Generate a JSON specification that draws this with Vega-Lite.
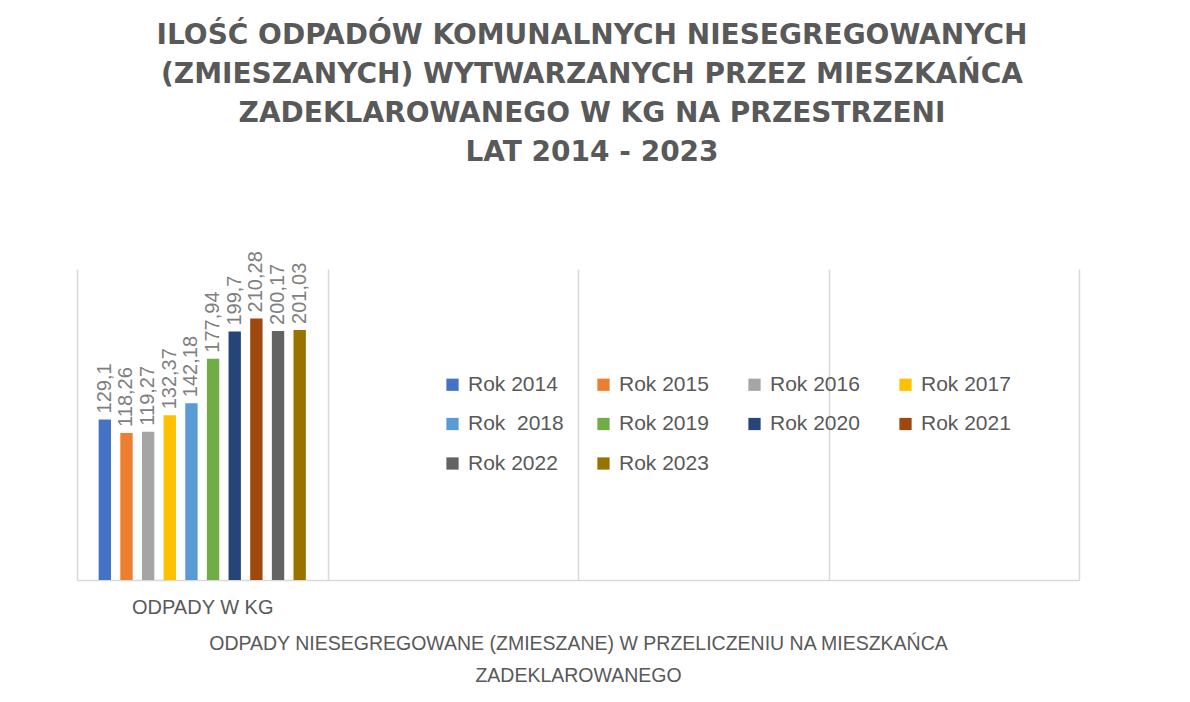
{
  "$schema": "https://vega.github.io/schema/vega-lite/v6.json",
  "width": 1002,
  "height": 311,
  "padding": {"left": 77, "top": 22, "right": 111, "bottom": 0},
  "background": "white",
  "config": {
    "view": {"stroke": null},
    "locale": {"number": {"decimal": ",", "thousands": " ", "grouping": [3], "currency": ["", " zł"]}}
  },
  "title": {
    "text": ["ILOŚĆ ODPADÓW KOMUNALNYCH NIESEGREGOWANYCH", "(ZMIESZANYCH) WYTWARZANYCH PRZEZ MIESZKAŃCA", "ZADEKLAROWANEGO W KG NA PRZESTRZENI", "LAT 2014 - 2023"],
    "font": "DejaVu Sans",
    "fontWeight": "bold",
    "fontSize": 28,
    "lineHeight": 39,
    "color": "#595959",
    "anchor": "middle",
    "dx": 14,
    "offset": 84
  },
  "data": {
    "values": [
      {"cat": "ODPADY W KG", "rok": "Rok 2014", "value": 129.1},
      {"cat": "ODPADY W KG", "rok": "Rok 2015", "value": 118.26},
      {"cat": "ODPADY W KG", "rok": "Rok 2016", "value": 119.27},
      {"cat": "ODPADY W KG", "rok": "Rok 2017", "value": 132.37},
      {"cat": "ODPADY W KG", "rok": "Rok\u00a0 2018", "value": 142.18},
      {"cat": "ODPADY W KG", "rok": "Rok 2019", "value": 177.94},
      {"cat": "ODPADY W KG", "rok": "Rok 2020", "value": 199.7},
      {"cat": "ODPADY W KG", "rok": "Rok 2021", "value": 210.28},
      {"cat": "ODPADY W KG", "rok": "Rok 2022", "value": 200.17},
      {"cat": "ODPADY W KG", "rok": "Rok 2023", "value": 201.03}
    ]
  },
  "encoding": {
    "x": {
      "field": "cat",
      "type": "nominal",
      "scale": {"domain": ["ODPADY W KG", "k2", "k3", "k4"], "paddingInner": 0, "paddingOuter": 0},
      "axis": {
        "labelExpr": "datum.value == 'ODPADY W KG' ? datum.value : ''",
        "labelAngle": 0,
        "labelFont": "Liberation Sans",
        "labelFontSize": 20,
        "labelColor": "#595959",
        "labelPadding": 17,
        "ticks": false,
        "domainColor": "#d9d9d9",
        "domainWidth": 1.5,
        "grid": true,
        "gridColor": "#d9d9d9",
        "gridWidth": 1.5,
        "tickBand": "extent",
        "title": ["ODPADY NIESEGREGOWANE (ZMIESZANE) W PRZELICZENIU NA MIESZKAŃCA", "ZADEKLAROWANEGO"],
        "titleFont": "Liberation Sans",
        "titleFontSize": 19.5,
        "titleFontWeight": "normal",
        "titleColor": "#595959",
        "titleLineHeight": 32,
        "titlePadding": 17
      }
    },
    "xOffset": {
      "field": "rok",
      "type": "nominal",
      "scale": {
        "domain": ["Rok 2014", "Rok 2015", "Rok 2016", "Rok 2017", "Rok\u00a0 2018", "Rok 2019", "Rok 2020", "Rok 2021", "Rok 2022", "Rok 2023"],
        "paddingInner": 0.43,
        "paddingOuter": 1.165
      }
    },
    "y": {
      "field": "value",
      "type": "quantitative",
      "scale": {"domain": [0, 250], "nice": false},
      "axis": null
    }
  },
  "layer": [
    {
      "mark": {"type": "bar"},
      "encoding": {
        "color": {
          "field": "rok",
          "type": "nominal",
          "scale": {
            "domain": ["Rok 2014", "Rok 2015", "Rok 2016", "Rok 2017", "Rok\u00a0 2018", "Rok 2019", "Rok 2020", "Rok 2021", "Rok 2022", "Rok 2023"],
            "range": ["#4472C4", "#ED7D31", "#A5A5A5", "#FFC000", "#5B9BD5", "#70AD47", "#264478", "#9E480E", "#636363", "#997300"]
          },
          "legend": {
            "orient": "none",
            "direction": "horizontal",
            "legendX": 365,
            "legendY": 105,
            "columns": 4,
            "title": null,
            "padding": 0,
            "symbolType": "square",
            "symbolSize": 150,
            "symbolStrokeWidth": 0,
            "labelFont": "Liberation Sans",
            "labelFontSize": 21,
            "labelColor": "#595959",
            "labelOffset": 5,
            "rowPadding": 17.5,
            "columnPadding": 29,
            "gridAlign": "all"
          }
        }
      }
    },
    {
      "mark": {"type": "text", "angle": 270, "align": "left", "baseline": "middle", "dx": 6, "font": "Liberation Sans", "fontSize": 20, "color": "#7f7f7f"},
      "encoding": {
        "text": {"field": "value", "type": "quantitative", "format": ".5~r"}
      }
    }
  ]
}
